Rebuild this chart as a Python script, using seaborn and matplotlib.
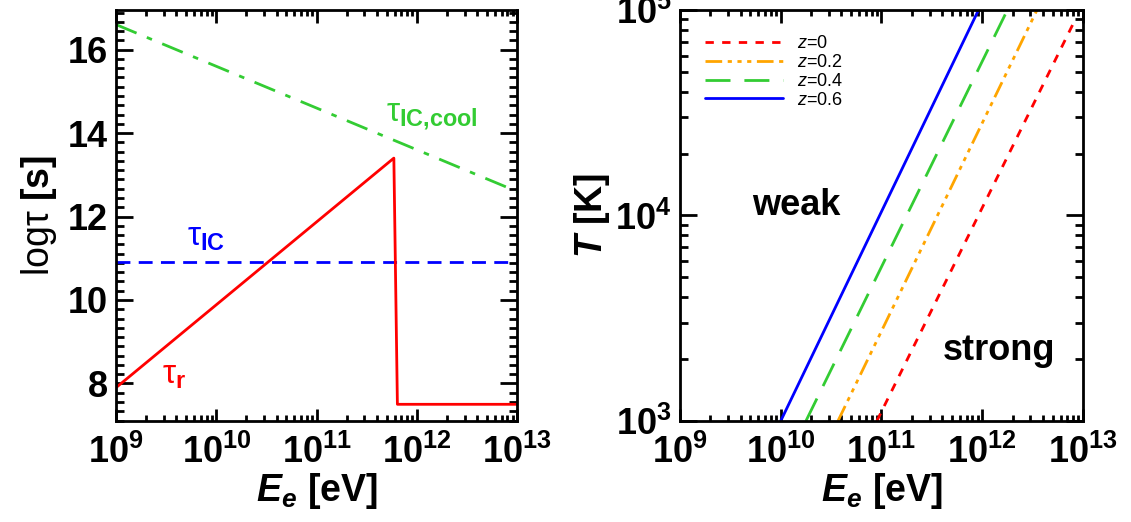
import numpy as np
import pandas as pd
import matplotlib
matplotlib.use("Agg")
import matplotlib.pyplot as plt
import seaborn as sns
from matplotlib.ticker import AutoMinorLocator, MultipleLocator, LogLocator

# ---- left panel: timescales (log tau [s]) vs electron energy
E_cool = [1e9, 1e13]
tau_cool = [16.6, 12.6]
E_ic = [1e9, 1e13]
tau_ic = [10.9, 10.9]
E_r = [1e9, 5.9e11, 6.4e11, 1e13]
tau_r = [7.9, 13.4, 7.5, 7.5]

# ---- right panel: T vs E_e for several redshifts
E_z0 = [9.0e10, 8.5e12]
T_z0 = [1e3, 9.1e4]
E_z02 = [3.7e10, 3.5e12]
T_z02 = [1e3, 1e5]
E_z04 = [1.78e10, 1.78e12]
T_z04 = [1e3, 1e5]
E_z06 = [1.0e10, 9.2e11]
T_z06 = [1e3, 1e5]

sns.set_style("ticks")
plt.rcParams["font.family"] = ["Liberation Sans", "DejaVu Sans"]
plt.rcParams["font.weight"] = "bold"
plt.rcParams["text.color"] = "black"
plt.rcParams["axes.labelcolor"] = "black"
plt.rcParams["axes.edgecolor"] = "black"
plt.rcParams["mathtext.fontset"] = "custom"
plt.rcParams["mathtext.rm"] = "Liberation Sans:bold"
plt.rcParams["mathtext.it"] = "Liberation Sans:bold:italic"
plt.rcParams["mathtext.bf"] = "Liberation Sans:bold"
plt.rcParams["mathtext.sf"] = "Liberation Sans:weight=normal"
plt.rcParams["mathtext.cal"] = "Liberation Sans:italic:weight=normal"
plt.rcParams["axes.linewidth"] = 2

fig = plt.figure(figsize=(11.31, 5.22), dpi=100)
ax1 = fig.add_axes([0.1026, 0.1935, 0.3546, 0.7874])
ax2 = fig.add_axes([0.6012, 0.1935, 0.3563, 0.7874])


def style_ticks(ax):
    ax.tick_params(which="both", direction="in", top=True, right=True,
                   width=2, labelsize=26, colors="black")
    ax.tick_params(axis="x", which="major", length=9, pad=10)
    ax.tick_params(axis="x", which="minor", length=4.5)
    ax.tick_params(axis="y", which="major", length=12, pad=6)
    ax.tick_params(axis="y", which="minor", length=6)


# left
ax1.set_xscale("log")
sns.lineplot(x=E_cool, y=tau_cool, ax=ax1, color="#33cc33", lw=2,
             linestyle=(0, (8, 4, 2, 4)))
sns.lineplot(x=E_ic, y=tau_ic, ax=ax1, color="#0000ff", lw=2,
             linestyle=(0, (5, 3)))
sns.lineplot(x=E_r, y=tau_r, ax=ax1, color="#ff0000", lw=2, sort=False)
ax1.set_xlim(1e9, 1e13)
ax1.set_ylim(7.1, 16.95)
ax1.xaxis.set_major_locator(LogLocator(base=10, numticks=10))
ax1.xaxis.set_minor_locator(LogLocator(base=10, subs=np.arange(2, 10), numticks=50))
ax1.yaxis.set_major_locator(MultipleLocator(2))
ax1.yaxis.set_minor_locator(AutoMinorLocator(9))
style_ticks(ax1)
ax1.set_xlabel(r"$E_e$ [eV]", fontsize=27, fontweight="bold", labelpad=0)
ax1.set_ylabel(r"$\mathsf{log\tau}$ [s]", fontsize=27, fontweight="bold", labelpad=6)
ax1.text(4.9e11, 14.4, r"$\mathsf{\tau}_{\mathbf{IC{,}cool}}$", color="#33cc33",
         fontsize=24, ha="left", va="center")
ax1.text(5.1e9, 11.5, r"$\mathsf{\tau}_{\mathbf{IC}}$", color="#0000ff",
         fontsize=24, ha="left", va="center")
ax1.text(2.9e9, 8.2, r"$\mathsf{\tau}_{\mathbf{r}}$", color="#ff0000",
         fontsize=24, ha="left", va="center")

# right
ax2.set_xscale("log")
ax2.set_yscale("log")
sns.lineplot(x=E_z0, y=T_z0, ax=ax2, color="#ff0000", lw=2,
             linestyle=(0, (3, 3)), label=r"$\mathcal{z}$=0")
sns.lineplot(x=E_z02, y=T_z02, ax=ax2, color="#ffa500", lw=2,
             linestyle=(0, (6, 2, 1.5, 2, 1.5, 2, 1.5, 2)), label=r"$\mathcal{z}$=0.2")
sns.lineplot(x=E_z04, y=T_z04, ax=ax2, color="#33cc33", lw=2,
             linestyle=(0, (9, 5)), label=r"$\mathcal{z}$=0.4")
sns.lineplot(x=E_z06, y=T_z06, ax=ax2, color="#0000ff", lw=2,
             label=r"$\mathcal{z}$=0.6")
ax2.set_xlim(1e9, 1e13)
ax2.set_ylim(1e3, 1e5)
ax2.xaxis.set_major_locator(LogLocator(base=10, numticks=10))
ax2.xaxis.set_minor_locator(LogLocator(base=10, subs=np.arange(2, 10), numticks=50))
ax2.yaxis.set_major_locator(LogLocator(base=10, numticks=10))
ax2.yaxis.set_minor_locator(LogLocator(base=10, subs=np.arange(2, 10), numticks=50))
style_ticks(ax2)
ax2.set_xlabel(r"$E_e$ [eV]", fontsize=27, fontweight="bold", labelpad=0)
ax2.set_ylabel(r"$T$ [K]", fontsize=27, fontweight="bold", labelpad=2)
ax2.text(5.2e9, 1.12e4, "weak", fontsize=26, fontweight="bold", ha="left", va="center")
ax2.text(4.1e11, 2.2e3, "strong", fontsize=26, fontweight="bold", ha="left", va="center")
ax2.legend(loc="upper left", frameon=False, handlelength=4.3,
           labelspacing=0.1, handletextpad=0.8, borderaxespad=1.0,
           prop={"family": "Liberation Sans", "weight": "normal", "size": 13})

fig.savefig("out.png", dpi=100)
